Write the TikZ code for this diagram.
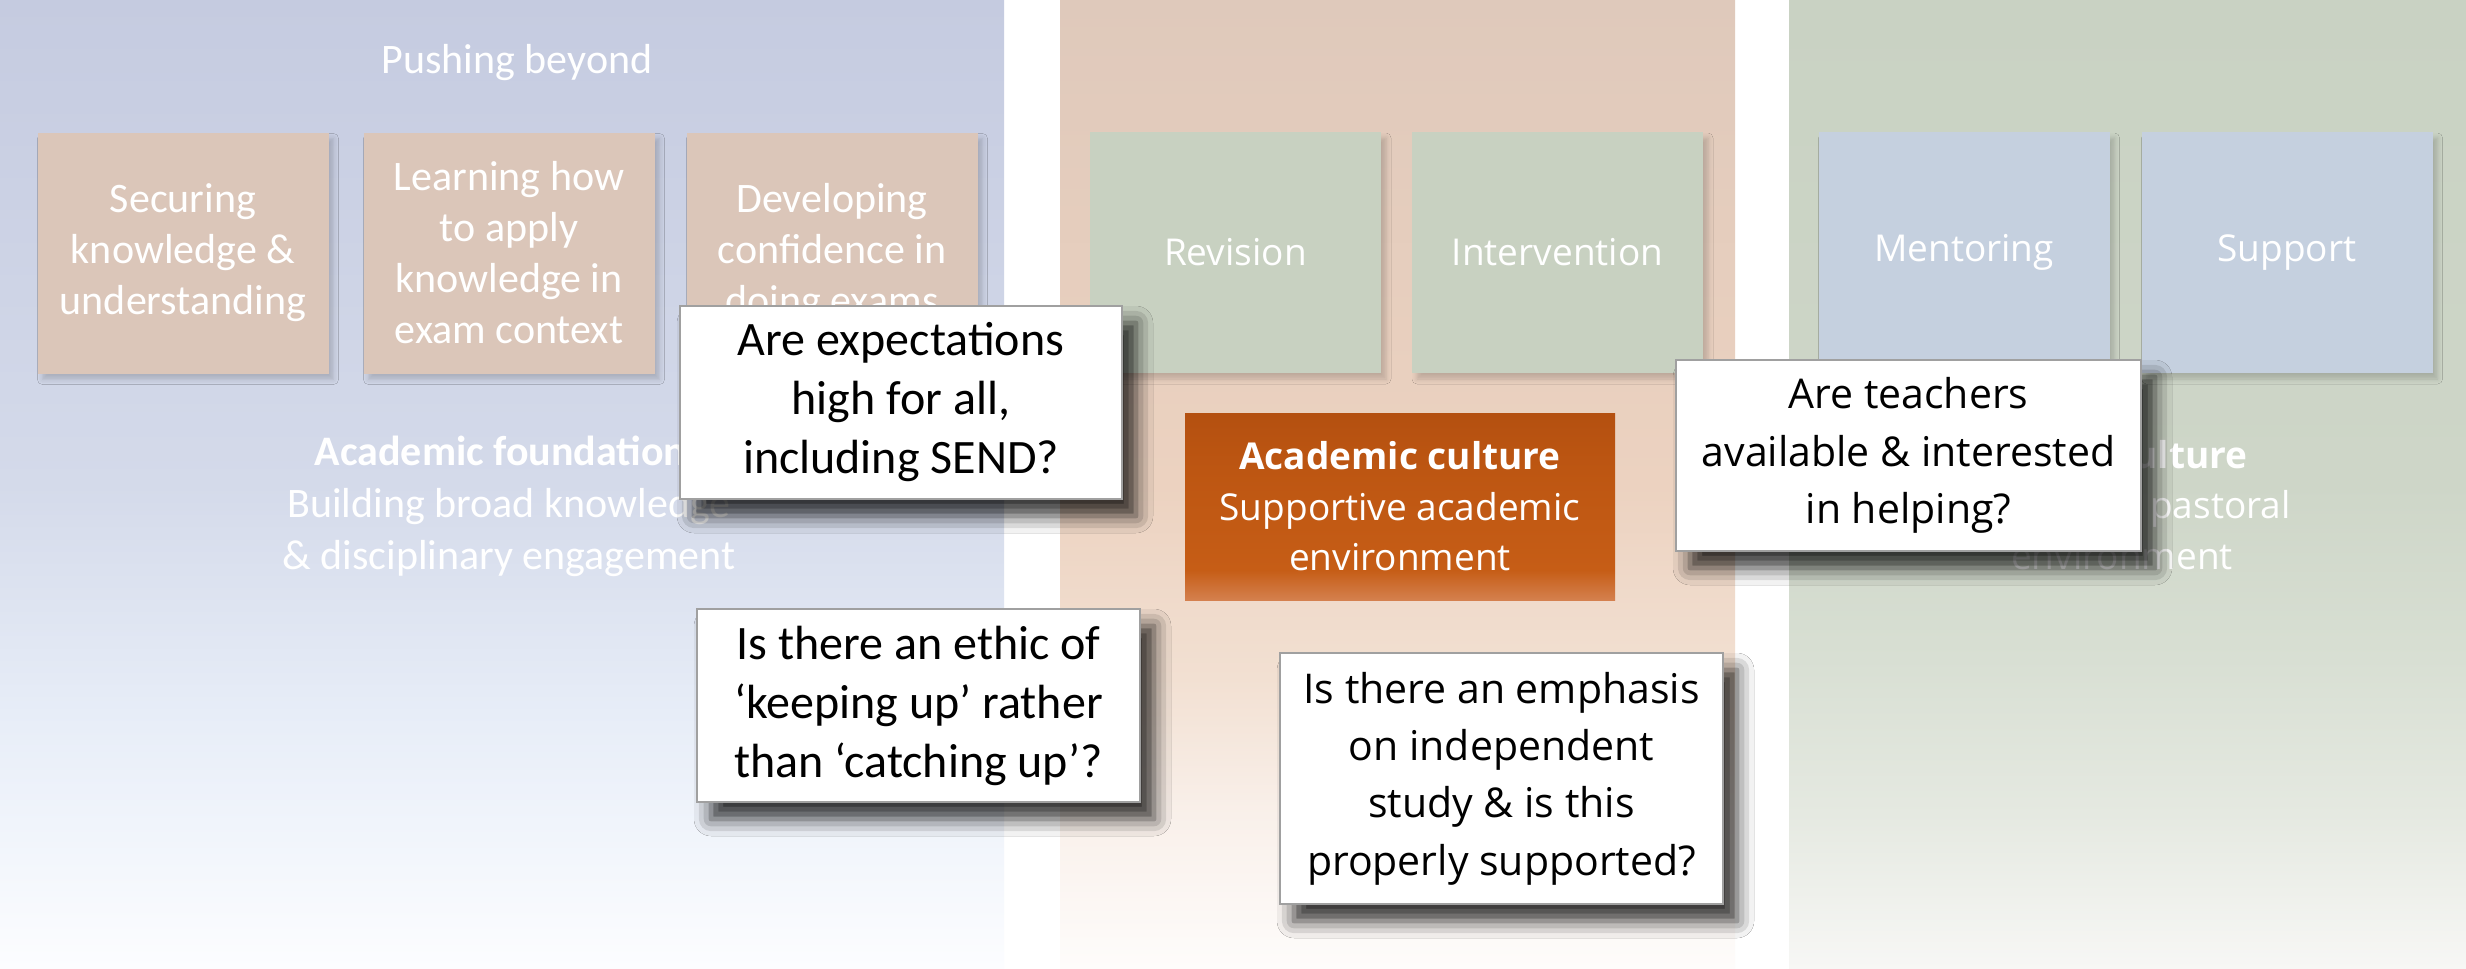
\documentclass[tikz,border=0pt]{standalone}
\usepackage{fontspec}
\setmainfont{Carlito}
\newfontfamily\osans{Open Sans}
\usetikzlibrary{shadows.blur}
\definecolor{lp1}{RGB}{197,203,224}
\definecolor{lp2}{RGB}{212,218,234}
\definecolor{lp3}{RGB}{232,238,248}
\definecolor{lp4}{RGB}{252,253,255}
\definecolor{mp1}{RGB}{223,201,187}
\definecolor{mp2}{RGB}{236,210,192}
\definecolor{mp3}{RGB}{242,224,210}
\definecolor{mp4}{RGB}{249,240,234}
\definecolor{mp5}{RGB}{254,252,251}
\definecolor{rp1}{RGB}{201,210,195}
\definecolor{rp2}{RGB}{206,214,200}
\definecolor{rp3}{RGB}{216,223,211}
\definecolor{rp4}{RGB}{229,233,225}
\definecolor{rp5}{RGB}{247,247,245}
\definecolor{or1}{RGB}{180,80,16}
\definecolor{or2}{RGB}{189,86,18}
\definecolor{or3}{RGB}{198,93,22}
\definecolor{or4}{RGB}{212,128,78}
\definecolor{tanbox}{RGB}{219,198,185}
\definecolor{sagebox}{RGB}{200,209,193}
\definecolor{bluebox}{RGB}{197,208,223}
\definecolor{callborder}{RGB}{160,160,160}
\pgfdeclareverticalshading{leftpanel}{100bp}{color(0bp)=(lp4); color(25bp)=(lp4); color(37.5bp)=(lp3); color(50bp)=(lp2); color(75bp)=(lp1); color(100bp)=(lp1)}
\pgfdeclareverticalshading{midpanel}{100bp}{color(0bp)=(mp5); color(25bp)=(mp5); color(33bp)=(mp4); color(40bp)=(mp3); color(50bp)=(mp2); color(75bp)=(mp1); color(100bp)=(mp1)}
\pgfdeclareverticalshading{rightpanel}{100bp}{color(0bp)=(rp5); color(25bp)=(rp5); color(33bp)=(rp4); color(41bp)=(rp3); color(50bp)=(rp2); color(75bp)=(rp1); color(100bp)=(rp1)}
\pgfdeclareverticalshading{orangebox}{100bp}{color(0bp)=(or4); color(25bp)=(or4); color(33bp)=(or3); color(60bp)=(or2); color(75bp)=(or1); color(100bp)=(or1)}
\begin{document}
\begin{tikzpicture}[x=1pt,y=-1pt,
  panel/.style={draw=none, inner sep=0pt, minimum height=969pt},
  panelbox/.style={draw=none, minimum width=291pt, minimum height=241pt, inner sep=0pt, align=center, text=white,
    blur shadow={shadow xshift=5pt, shadow yshift=-6pt, shadow blur radius=5pt, shadow opacity=18}},
  lbox/.style={panelbox, fill=tanbox, font=\fontsize{42}{51}\selectfont},
  mbox/.style={panelbox, fill=sagebox, font=\osans\fontsize{37}{50}\selectfont},
  rbox/.style={panelbox, fill=bluebox, font=\osans\fontsize{37}{50}\selectfont},
  ltext/.style={text=white, align=center, inner sep=0pt, font=\fontsize{42}{52}\selectfont},
  otext/.style={text=white, align=center, inner sep=0pt, font=\osans\fontsize{37}{50.5}\selectfont},
  callout/.style={draw=callborder, line width=2pt, fill=white, inner sep=0pt, align=center, text=black,
    blur shadow={shadow xshift=14pt, shadow yshift=-17pt, shadow blur radius=17pt, shadow opacity=80}},
  ccal/.style={callout, font=\fontsize{48}{59}\selectfont},
  cos/.style={callout, font=\osans\fontsize{41}{57.3}\selectfont}
]
\useasboundingbox (0,0) rectangle (2466,969);
\fill[white] (0,0) rectangle (2466,969);
% panels
\node[panel, shading=leftpanel, minimum width=1004pt] (lp) at (502,484.5) {};
\node[panel, shading=midpanel, minimum width=675pt] (mp) at (1397.5,484.5) {};
\node[panel, shading=rightpanel, minimum width=677pt] (rp) at (2127.5,484.5) {};
% left panel content
\node[ltext] (pb) at (517,63) {Pushing beyond};
\node[lbox] (b1) at (183,253) {Securing\\knowledge \&\\understanding};
\node[lbox] (b2) at (509,253) {Learning how\\to apply\\knowledge in\\exam context};
\node[lbox] (b3) at (832,253) {Developing\\confidence in\\doing exams};
\node[ltext] (af) at (509,506) {\textbf{Academic foundations}\\Building broad knowledge\\\& disciplinary engagement};
% middle panel content
\node[mbox] (rev) at (1235.5,252.5) {Revision};
\node[mbox] (int) at (1557.5,252.5) {Intervention};
\node[otext, shading=orangebox, minimum width=430pt, minimum height=187pt] (ac) at (1400,506.5) {\textbf{Academic culture}\\Supportive academic\\environment};
% right panel content
\node[rbox] (men) at (1964,252.5) {Mentoring};
\node[rbox] (sup) at (2287,252.5) {Support};
\node[otext, font=\osans\bfseries\fontsize{37}{50.5}\selectfont] (pcb) at (2100,455) {Pastoral culture};
\node[otext] (pc) at (2122,530) {Supportive pastoral\\environment};
% callouts
\node[ccal, minimum width=442pt, minimum height=193pt] (q1) at (901,402.5) {Are expectations\\high for all,\\including SEND?};
\node[ccal, minimum width=443pt, minimum height=193pt] (q2) at (918.5,705.5) {Is there an ethic of\\‘keeping up’ rather\\than ‘catching up’?};
\node[cos, minimum width=443pt, minimum height=251pt] (q3) at (1501.5,778.5) {Is there an emphasis\\on independent\\study \& is this\\properly supported?};
\node[cos, minimum width=465pt, minimum height=191pt] (q4) at (1908.5,455.5) {Are teachers\\available \& interested\\in helping?};
\end{tikzpicture}
\end{document}
